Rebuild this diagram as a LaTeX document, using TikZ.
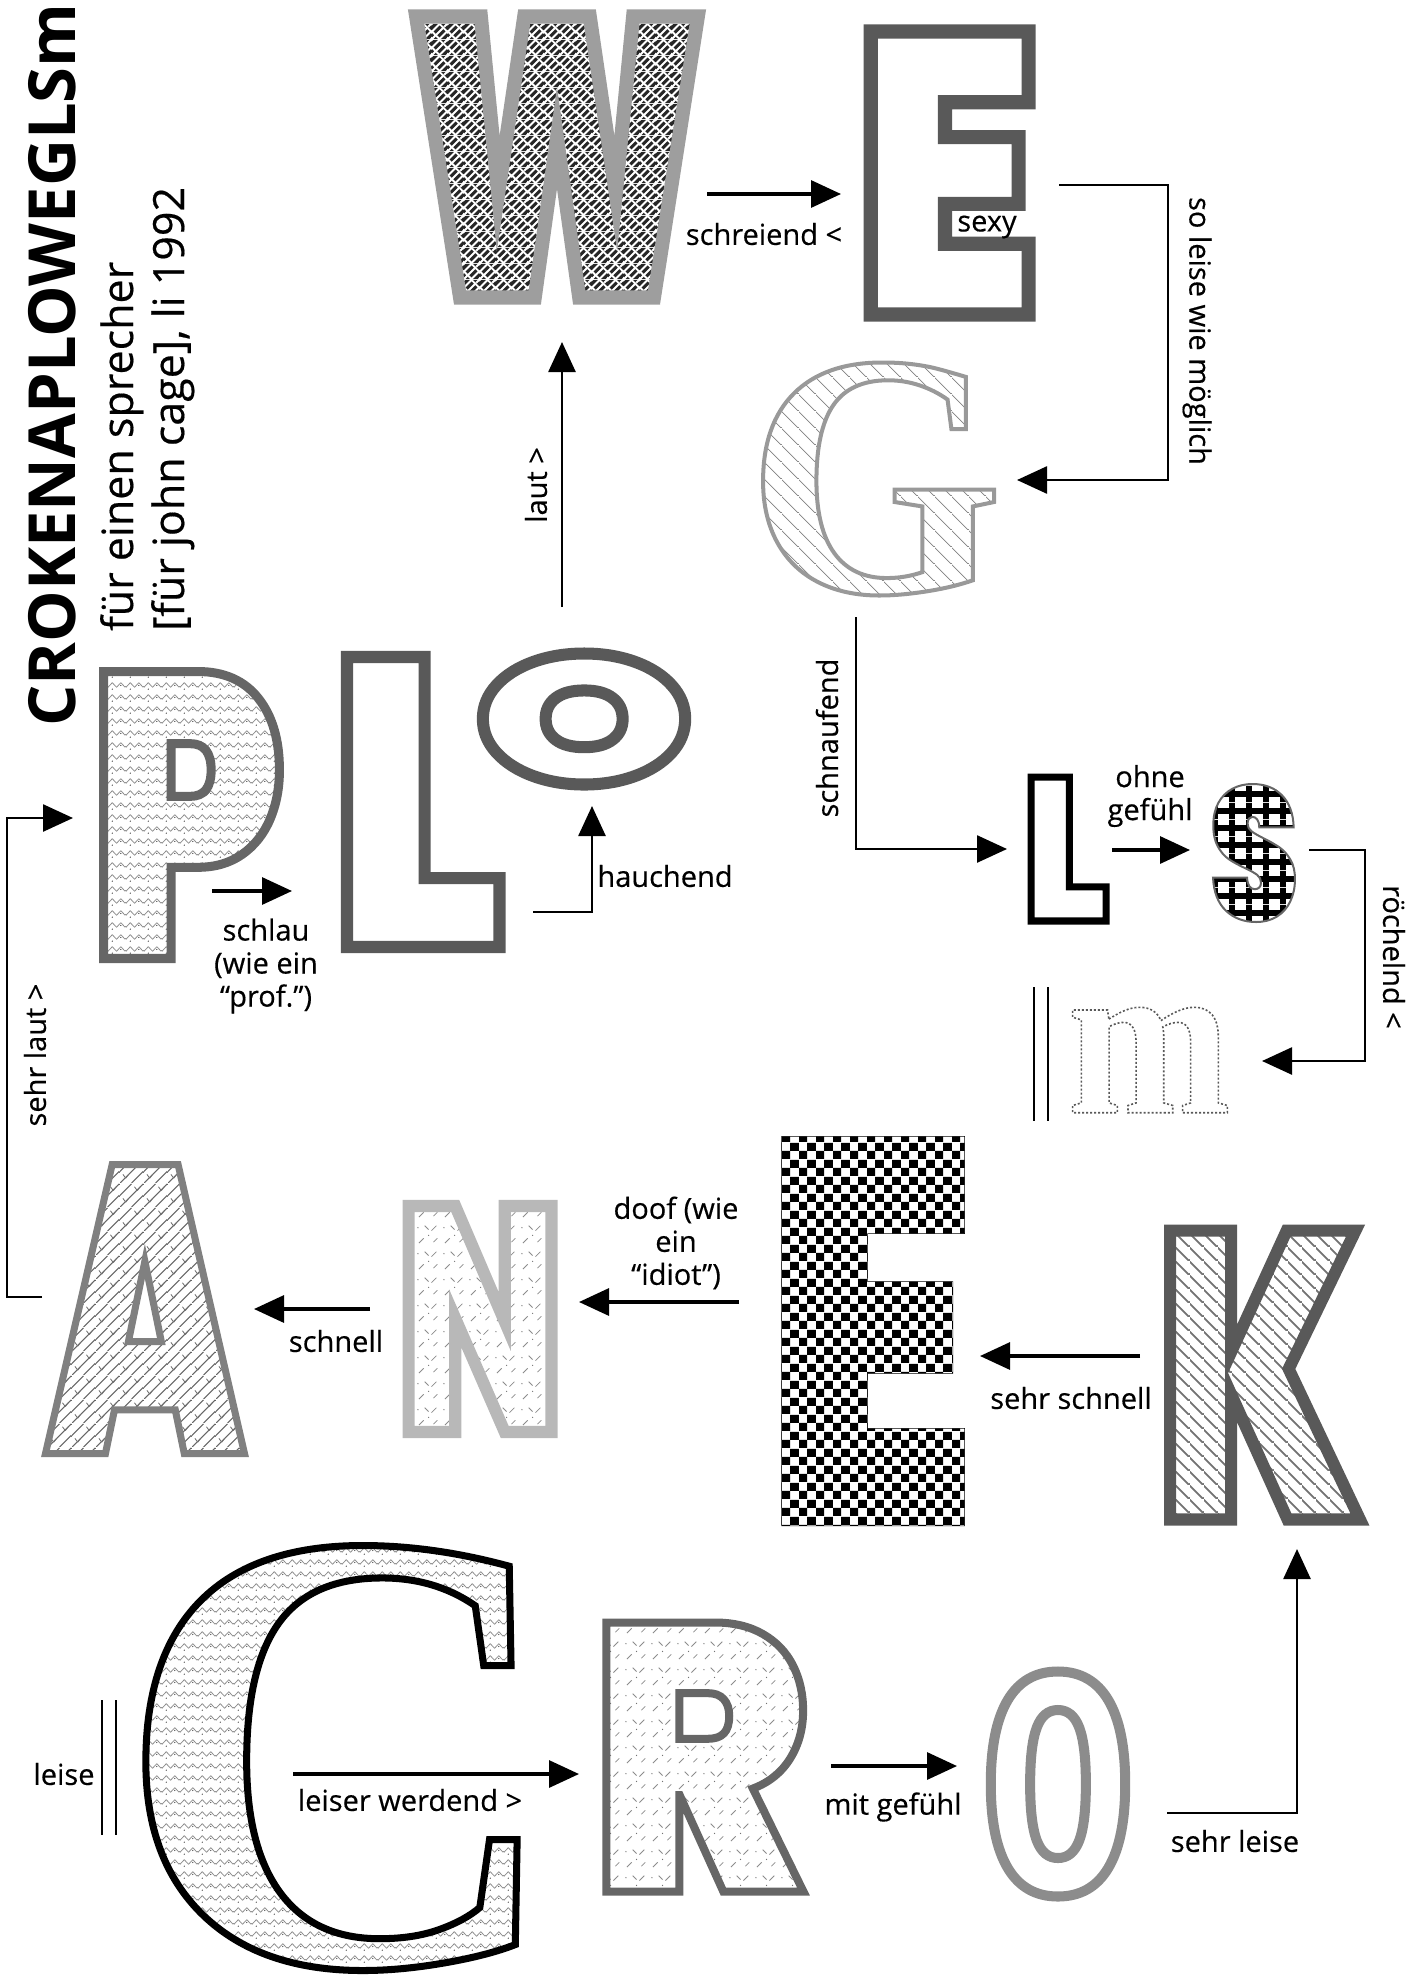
\documentclass[tikz,border=0pt]{standalone}
\usepackage{fontspec}
\setmainfont{Open Sans}
\newfontfamily\labelface{Open Sans}[FakeBold=0.4]
\usetikzlibrary{arrows.meta,patterns}

\newcommand{\tileline}[4]{\pgfpathmoveto{\pgfqpoint{#1pt}{#2pt}}\pgfpathlineto{\pgfqpoint{#3pt}{#4pt}}}
\newcommand{\tiledot}[2]{\pgfpathcircle{\pgfqpoint{#1pt}{#2pt}}{0.7pt}}

% fills of the big letters
\pgfdeclarepatterninherentlycolored{weavefill}{\pgfqpoint{0pt}{0pt}}{\pgfqpoint{16pt}{16pt}}{\pgfqpoint{16pt}{16pt}}{%
  \pgfsetfillcolor{black!85}\pgfpathrectangle{\pgfpointorigin}{\pgfqpoint{16pt}{16pt}}\pgfusepath{fill}
  \pgfsetstrokecolor{white}\pgfsetlinewidth{2pt}
  \tileline{-3}{-3}{3}{3}\tileline{5}{5}{11}{11}\tileline{13}{13}{19}{19}\tileline{1}{9}{7}{15}\tileline{9}{1}{15}{7}
  \tileline{-3}{13}{3}{19}\tileline{13}{-3}{19}{3}
  \tileline{1}{7}{7}{1}\tileline{9}{15}{15}{9}\tileline{-3}{11}{3}{5}\tileline{13}{11}{19}{5}\tileline{5}{3}{11}{-3}\tileline{5}{19}{11}{13}
  \pgfusepath{stroke}}
\pgfdeclarepatterninherentlycolored{zigzagfill}{\pgfqpoint{0pt}{0pt}}{\pgfqpoint{18pt}{12pt}}{\pgfqpoint{18pt}{12pt}}{%
  \pgfsetstrokecolor{black!45}\pgfsetlinewidth{0.8pt}
  \tileline{0}{4}{4.5}{9}\tileline{4.5}{9}{9}{4}\tileline{9}{4}{13.5}{9}\tileline{13.5}{9}{18}{4}\pgfusepath{stroke}
  \pgfsetfillcolor{black!70}\tiledot{4.5}{2}\tiledot{13.5}{6}\pgfusepath{fill}}
\pgfdeclarepatterninherentlycolored{tickfill}{\pgfqpoint{0pt}{0pt}}{\pgfqpoint{26pt}{26pt}}{\pgfqpoint{26pt}{26pt}}{%
  \pgfsetstrokecolor{black!45}\pgfsetlinewidth{0.8pt}
  \tileline{3}{4}{8}{9}\tileline{16}{17}{21}{22}\tileline{9}{22}{13}{18}\tileline{22}{9}{18}{5}\pgfusepath{stroke}
  \pgfsetfillcolor{black!55}\tiledot{13}{12}\tiledot{2}{20}\pgfusepath{fill}}
\pgfdeclarepatterninherentlycolored{scalefill}{\pgfqpoint{0pt}{0pt}}{\pgfqpoint{24pt}{24pt}}{\pgfqpoint{24pt}{24pt}}{%
  \pgfsetstrokecolor{black!60}\pgfsetlinewidth{1.1pt}
  \tileline{0}{0}{24}{24}\tileline{-12}{0}{12}{24}\tileline{12}{0}{36}{24}\pgfusepath{stroke}
  \pgfsetstrokecolor{black!55}\pgfsetlinewidth{0.9pt}
  \tileline{3}{9}{6}{5}\tileline{6}{5}{9}{9}\tileline{15}{21}{18}{17}\tileline{18}{17}{21}{21}\pgfusepath{stroke}}
\pgfdeclarepatterninherentlycolored{hatchthin}{\pgfqpoint{0pt}{0pt}}{\pgfqpoint{17pt}{17pt}}{\pgfqpoint{17pt}{17pt}}{%
  \pgfsetstrokecolor{black!50}\pgfsetlinewidth{0.7pt}
  \tileline{-2}{19}{19}{-2}\pgfusepath{stroke}}
\pgfdeclarepatterninherentlycolored{hatchwide}{\pgfqpoint{0pt}{0pt}}{\pgfqpoint{14pt}{14pt}}{\pgfqpoint{14pt}{14pt}}{%
  \pgfsetstrokecolor{black!55}\pgfsetlinewidth{1.8pt}
  \tileline{-2}{16}{16}{-2}\pgfusepath{stroke}}
\pgfdeclarepatterninherentlycolored{chequerfill}{\pgfqpoint{0pt}{0pt}}{\pgfqpoint{17pt}{17pt}}{\pgfqpoint{17pt}{17pt}}{%
  \pgfsetfillcolor{black}\pgfpathrectangle{\pgfpointorigin}{\pgfqpoint{8.5pt}{8.5pt}}
  \pgfpathrectangle{\pgfqpoint{8.5pt}{8.5pt}}{\pgfqpoint{8.5pt}{8.5pt}}\pgfusepath{fill}}
\pgfdeclarepatterninherentlycolored{gridfill}{\pgfqpoint{0pt}{0pt}}{\pgfqpoint{17pt}{17pt}}{\pgfqpoint{17pt}{17pt}}{%
  \pgfsetstrokecolor{black}\pgfsetlinewidth{6pt}
  \tileline{0}{8.5}{17}{8.5}\tileline{8.5}{0}{8.5}{17}\pgfusepath{stroke}}

\newsavebox{\letterbox}
\newsavebox{\letteredge}
\newdimen\letterw \newdimen\letterd
% font, letter, width, height, fill, outline width, outline colour, dash
\newcommand{\lettermark}[8]{%
  \sbox{\letterbox}{\fontspec{#1}\fontsize{100pt}{100pt}\selectfont #2}%
  \pgfmathsetmacro{\lettersize}{(#4-#6)/(\the\ht\letterbox+\the\dp\letterbox)*100}%
  \pgfmathsetmacro{\letterstretch}{(#3-#6)/(\lettersize/100*\the\wd\letterbox)}%
  \sbox{\letterbox}{\fontspec{#1}[FakeStretch=\letterstretch]\fontsize{\lettersize pt}{\lettersize pt}\selectfont #2}%
  \sbox{\letteredge}{\fontspec{#1}[FakeStretch=\letterstretch,Color=#7]\fontsize{\lettersize pt}{\lettersize pt}\selectfont #2}%
  \letterw=\wd\letterbox \letterd=\dp\letterbox
  \def\letterfill{#5}%
  \ifx\letterfill\empty\else
    \rlap{\special{pdf:literal direct q 7 Tr}\usebox{\letterbox}\special{pdf:literal direct 0 Tr}%
      \tikz[overlay]\fill[pattern=#5] (-\letterw,-\letterd) rectangle (0pt,\ht\letterbox);%
      \special{pdf:literal direct Q}}%
  \fi
  \rlap{\special{pdf:literal direct q 1 Tr #6 w #8}\usebox{\letteredge}\special{pdf:literal direct Q}}%
  \phantom{\usebox{\letterbox}}}

\def\heavyface{Poppins Black}
\def\romanface{Liberation Serif Bold}
\def\monoface{DejaVu Sans Mono Bold}

\begin{document}
\begin{tikzpicture}[
x=1pt,y=-1pt,
letter/.style={inner sep=0pt,outer sep=0pt},
lab/.style={align=center,inner sep=0pt,font=\labelface\fontsize{29}{33}\selectfont},
arrow/.style={-{Triangle[length=30pt,width=27pt]},line width=3.2pt},
elbow/.style={-{Triangle[length=30pt,width=27pt]},line width=2.6pt,miter limit=4},
bars/.style={line width=2.6pt}
]
\useasboundingbox (0,0) rectangle (1424,1975);

% title
\node[rotate=90,anchor=base west,inner sep=0pt,font=\fontsize{65}{65}\selectfont\bfseries] (title) at (75,727) {CROKENAPLOWEGLSm};
\node[rotate=90,anchor=base west,inner sep=0pt,font=\labelface\fontsize{43}{43}\selectfont] (sub1) at (133,631) {für einen sprecher};
\node[rotate=90,anchor=base west,inner sep=0pt,font=\labelface\fontsize{43}{43}\selectfont] (sub2) at (184,631) {[für john cage], li 1992};

% letters
\node[letter] (W) at (557,157) {\lettermark{\heavyface}{W}{312}{295}{weavefill}{14}{9E9E9E}{}};
\node[letter] (E1) at (947,173) {\lettermark{\heavyface}{E}{200}{297}{}{14}{595959}{}};
\node[letter] (G) at (875,479) {\lettermark{\romanface}{G}{260}{237}{hatchthin}{4}{999999}{}};
\node[letter] (P) at (187,815) {\lettermark{\heavyface}{P}{206}{296}{zigzagfill}{9}{666666}{}};
\node[letter] (L1) at (418,802) {\lettermark{\heavyface}{L}{189}{302}{}{12}{595959}{}};
\node[letter] (O1) at (584,719) {\lettermark{\heavyface}{O}{231}{143}{}{12}{595959}{}};
\node[letter] (L2) at (1066,849) {\lettermark{\heavyface}{L}{94}{151}{}{7}{000000}{}};
\node[letter] (S) at (1254,853) {\lettermark{\heavyface}{S}{92}{140}{gridfill}{2}{666666}{}};
\node[letter] (m) at (1149,1060) {\lettermark{\romanface}{m}{165}{107}{}{1.6}{595959}{[2 2] 0 d}};
\node[letter] (E2) at (870,1331) {\lettermark{\heavyface}{E}{216}{390}{chequerfill}{0.5}{000000}{}};
\node[letter] (K) at (1260,1375) {\lettermark{\heavyface}{K}{219}{301}{hatchwide}{12}{595959}{}};
\node[letter] (N) at (480,1319) {\lettermark{\heavyface}{N}{176}{238}{tickfill}{12}{B8B8B8}{}};
\node[letter] (A) at (145,1309) {\lettermark{\heavyface}{A}{206}{296}{scalefill}{7}{808080}{}};
\node[letter] (C) at (340,1758) {\lettermark{\romanface}{C}{456}{432}{zigzagfill}{7}{000000}{}};
\node[letter] (R) at (700,1757) {\lettermark{\heavyface}{R}{228}{277}{tickfill}{8}{666666}{}};
\node[letter] (O2) at (1058,1784) {\lettermark{\monoface}{O}{168}{235}{}{10}{8C8C8C}{}};

% labels
\node[lab] (schreiend) at (764,234) {schreiend <};
\node[lab] (sexy) at (987,227) {sexy};
\node[lab,rotate=-90] (moeglich) at (1197,331) {so leise wie möglich};
\node[lab,rotate=90] (schnaufend) at (827,738) {schnaufend};
\node[lab] (ohne) at (1150,796) {ohne\\gefühl};
\node[lab,rotate=-90] (roecheInd) at (1394,957) {röchelnd <};
\node[lab] (doof) at (676,1243) {doof (wie\\ein\\“idiot”)};
\node[lab] (schnell) at (336,1341) {schnell};
\node[lab] (sehrschnell) at (1071,1398) {sehr schnell};
\node[lab,rotate=90] (sehrlaut) at (35,1055) {sehr laut >};
\node[lab] (schlau) at (266,966) {schlau\\(wie ein\\“prof.”)};
\node[lab] (hauchend) at (665,876) {hauchend};
\node[lab,rotate=90] (laut) at (536,485) {laut >};
\node[lab] (leise) at (64,1774) {leise};
\node[lab] (werdend) at (410,1800) {leiser werdend >};
\node[lab] (gefuehl) at (893,1807) {mit gefühl};
\node[lab] (sehrleise) at (1235,1841) {sehr leise};

% connector ends
\coordinate (Wout) at (707,194);
\coordinate (E1in) at (841,194);
\coordinate (E1out) at (1059,185);
\coordinate (E1bend) at (1168,185);
\coordinate (Gbend) at (1168,480);
\coordinate (Gin) at (1017,480);
\coordinate (Gout) at (856,617);
\coordinate (L2bend) at (856,849);
\coordinate (L2in) at (1007,849);
\coordinate (L2out) at (1112,850);
\coordinate (Sin) at (1190,850);
\coordinate (Sout) at (1309,850);
\coordinate (Sbend) at (1365,850);
\coordinate (mbend) at (1365,1061);
\coordinate (min) at (1262,1061);
\coordinate (Kout) at (1140,1356);
\coordinate (E2in) at (980,1356);
\coordinate (E2out) at (739,1302);
\coordinate (Nin) at (579,1302);
\coordinate (Nout) at (370,1309);
\coordinate (Ain) at (254,1309);
\coordinate (Aout) at (42,1297);
\coordinate (Abend) at (7,1297);
\coordinate (Pbend) at (7,818);
\coordinate (Pin) at (73,818);
\coordinate (Pout) at (212,891);
\coordinate (L1in) at (292,891);
\coordinate (L1out) at (533,912);
\coordinate (O1bend) at (592,912);
\coordinate (O1in) at (592,806);
\coordinate (O1out) at (562,607);
\coordinate (Win) at (562,342);
\coordinate (Cout) at (293,1774);
\coordinate (Rin) at (579,1774);
\coordinate (Rout) at (831,1766);
\coordinate (O2in) at (957,1766);
\coordinate (O2out) at (1167,1813);
\coordinate (Kbend) at (1297,1813);
\coordinate (Kin) at (1297,1549);
\coordinate (mbara) at (1034,987);
\coordinate (mbarb) at (1034,1121);
\coordinate (mbarc) at (1048,987);
\coordinate (mbard) at (1048,1121);
\coordinate (cbara) at (102,1700);
\coordinate (cbarb) at (102,1835);
\coordinate (cbarc) at (116,1700);
\coordinate (cbard) at (116,1835);

\draw[arrow] (Wout)--(E1in);
\draw[elbow] (E1out)--(E1bend)--(Gbend)--(Gin);
\draw[elbow] (Gout)--(L2bend)--(L2in);
\draw[arrow] (L2out)--(Sin);
\draw[elbow] (Sout)--(Sbend)--(mbend)--(min);
\draw[arrow] (Kout)--(E2in);
\draw[arrow] (E2out)--(Nin);
\draw[arrow] (Nout)--(Ain);
\draw[elbow] (Aout)--(Abend)--(Pbend)--(Pin);
\draw[arrow] (Pout)--(L1in);
\draw[elbow] (L1out)--(O1bend)--(O1in);
\draw[elbow] (O1out)--(Win);
\draw[arrow] (Cout)--(Rin);
\draw[arrow] (Rout)--(O2in);
\draw[elbow] (O2out)--(Kbend)--(Kin);
\draw[bars] (mbara)--(mbarb) (mbarc)--(mbard);
\draw[bars] (cbara)--(cbarb) (cbarc)--(cbard);
\end{tikzpicture}
\end{document}
